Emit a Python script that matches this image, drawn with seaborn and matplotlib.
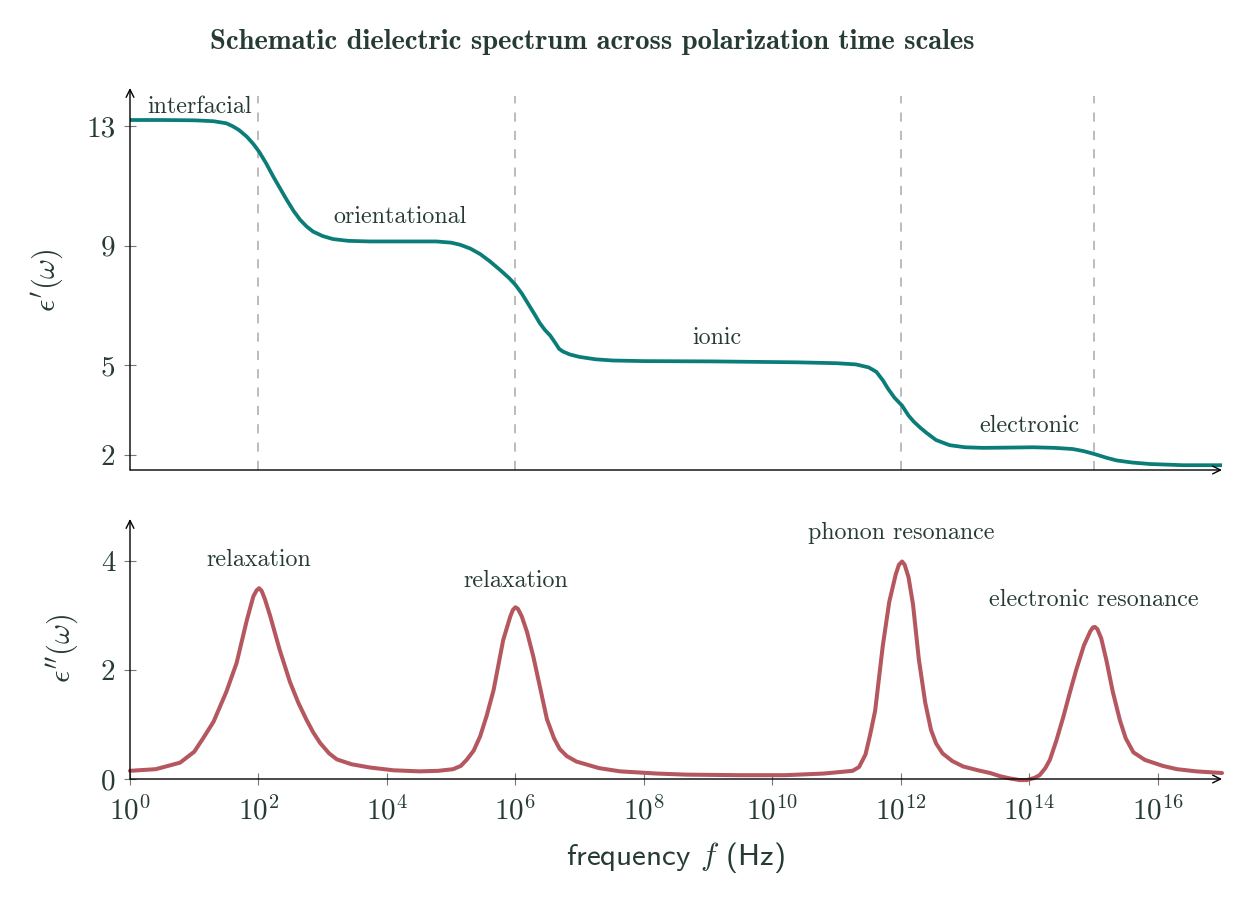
import numpy as np
import pandas as pd
import matplotlib
matplotlib.use("Agg")
import matplotlib.pyplot as plt
import seaborn as sns

# ---------------- data ----------------
# log10 of frequency (Hz) and real permittivity
real_logf = [0.0, 0.5, 1.0, 1.3, 1.5, 1.6, 1.7, 1.82, 1.92, 2.01, 2.12, 2.23, 2.34, 2.44, 2.55,
             2.65, 2.75, 2.85, 3.0, 3.16, 3.4, 3.74, 4.3, 4.77, 5.0, 5.14, 5.3, 5.45, 5.6,
             5.76, 5.9, 6.0, 6.1, 6.2, 6.3, 6.38, 6.46, 6.54, 6.62, 6.68, 6.74, 6.85, 7.0,
             7.25, 7.52, 8.0, 9.08, 10.38, 11.0, 11.3, 11.5, 11.62, 11.72, 11.8, 11.9, 12.02,
             12.12, 12.2, 12.3, 12.4, 12.55, 12.76, 13.0, 13.28, 13.7, 14.06, 14.4, 14.68, 14.85,
             15.02, 15.2, 15.36, 15.6, 15.88, 16.4, 17.0]
eps_real = [13.20, 13.20, 13.19, 13.16, 13.09, 12.99, 12.86, 12.64, 12.40, 12.14, 11.75, 11.31,
            10.90, 10.53, 10.15, 9.86, 9.64, 9.47, 9.32, 9.22, 9.16, 9.14, 9.14, 9.14, 9.10,
            9.03, 8.90, 8.72, 8.48, 8.19, 7.92, 7.69, 7.40, 7.05, 6.70, 6.41, 6.18, 6.00,
            5.75, 5.55, 5.46, 5.36, 5.28, 5.20, 5.16, 5.14, 5.13, 5.10, 5.07, 5.03, 4.93,
            4.78, 4.50, 4.22, 3.92, 3.65, 3.32, 3.12, 2.92, 2.74, 2.50, 2.33, 2.26, 2.24, 2.25,
            2.26, 2.24, 2.20, 2.13, 2.03, 1.91, 1.82, 1.75, 1.70, 1.66, 1.66]

# log10 of frequency (Hz) and imaginary permittivity
imag_logf = [0.0, 0.4, 0.78, 1.0, 1.14, 1.3, 1.5, 1.66, 1.82, 1.92, 1.97, 2.01, 2.05, 2.1,
             2.18, 2.33, 2.49, 2.62, 2.75, 2.85, 2.96, 3.1, 3.22, 3.45, 3.74, 4.1, 4.51, 4.8,
             5.03, 5.15, 5.24, 5.35, 5.45, 5.55, 5.66, 5.81, 5.92, 5.96, 6.0, 6.04, 6.1, 6.18,
             6.28, 6.38, 6.49, 6.6, 6.69, 6.8, 6.95, 7.3, 7.63, 8.2, 8.66, 9.5, 10.2, 10.8,
             11.25, 11.35, 11.45, 11.52, 11.6, 11.72, 11.82, 11.92, 11.97, 12.02, 12.06,
             12.12, 12.19, 12.28, 12.38, 12.47, 12.55, 12.65, 12.8, 12.97, 13.2, 13.39,
             13.55, 13.7, 13.85, 13.96, 14.08, 14.16, 14.25, 14.32, 14.42, 14.53, 14.63,
             14.73, 14.85, 14.95, 14.99, 15.02, 15.06, 15.12, 15.2, 15.3, 15.41, 15.5, 15.62,
             15.8, 16.08, 16.3, 16.6, 17.0]
eps_imag = [0.15, 0.18, 0.30, 0.50, 0.75, 1.05, 1.60, 2.13, 2.92, 3.35, 3.46, 3.50, 3.45,
            3.30, 3.00, 2.37, 1.78, 1.40, 1.08, 0.86, 0.66, 0.47, 0.36, 0.27, 0.21, 0.16,
            0.14, 0.15, 0.18, 0.24, 0.35, 0.52, 0.78, 1.15, 1.63, 2.55, 2.98, 3.10, 3.15,
            3.12, 2.98, 2.70, 2.24, 1.70, 1.10, 0.75, 0.55, 0.42, 0.32, 0.20, 0.14, 0.10,
            0.08, 0.07, 0.07, 0.10, 0.15, 0.22, 0.45, 0.80, 1.25, 2.45, 3.25, 3.75, 3.93,
            3.99, 3.93, 3.70, 3.20, 2.20, 1.40, 0.90, 0.65, 0.47, 0.33, 0.23, 0.16, 0.11,
            0.05, 0.01, -0.02, -0.02, 0.02, 0.07, 0.20, 0.35, 0.70, 1.14, 1.58, 2.00, 2.45,
            2.71, 2.78, 2.79, 2.75, 2.58, 2.18, 1.60, 1.08, 0.75, 0.49, 0.35, 0.24, 0.18,
            0.14, 0.11]

# mechanism boundaries (log10 Hz)
boundary_logf = [2, 6, 12, 15]

real_labels = ["interfacial", "orientational", "ionic", "electronic"]
real_label_logf = [1.09, 4.2, 9.14, 14.0]
real_label_y = [13.63, 9.96, 5.92, 2.98]

imag_labels = ["relaxation", "relaxation", "phonon resonance", "electronic resonance"]
imag_label_logf = [2.0, 6.0, 12.0, 15.0]
imag_label_y = [4.02, 3.63, 4.51, 3.28]

real_yticks = [2, 5, 9, 13]
imag_yticks = [0, 2, 4]
xtick_exps = [0, 2, 4, 6, 8, 10, 12, 14, 16]

# ---------------- style ----------------
sns.set_theme(style="white")
plt.rcParams["font.family"] = ["cmr10", "DejaVu Serif"]
plt.rcParams["mathtext.fontset"] = "cm"
plt.rcParams["axes.formatter.use_mathtext"] = True
plt.rcParams["axes.unicode_minus"] = False

TEXT = "#263b35"
TEAL = "#0b7d78"
RED = "#b5575f"

df_real = pd.DataFrame({"f": np.power(10.0, real_logf), "eps": eps_real})
df_imag = pd.DataFrame({"f": np.power(10.0, imag_logf), "eps": eps_imag})

fig = plt.figure(figsize=(12.47, 9.05), dpi=100)
W, H = 1247, 905
ax1 = fig.add_axes([130 / W, 1 - 470 / H, (1222 - 130) / W, (470 - 88) / H])
ax2 = fig.add_axes([130 / W, 1 - 779 / H, (1222 - 130) / W, (779 - 519) / H])

sns.lineplot(data=df_real, x="f", y="eps", ax=ax1, color=TEAL, lw=2.7, sort=False)
sns.lineplot(data=df_imag, x="f", y="eps", ax=ax2, color=RED, lw=2.9, sort=False)
for ax in (ax1, ax2):
    for line in ax.lines:
        line.set_solid_joinstyle("round")
        line.set_solid_capstyle("round")

for ax in (ax1, ax2):
    ax.set_xscale("log")
    ax.set_xlim(1, 1e17)
    for s in ax.spines.values():
        s.set_visible(False)
    ax.set_xlabel("")
    ax.set_ylabel("")
    ax.xaxis.set_minor_locator(matplotlib.ticker.NullLocator())
    ax.annotate("", xy=(0, 1), xytext=(0, 0), xycoords="axes fraction",
                arrowprops=dict(arrowstyle="->", lw=1.0, color="black",
                                shrinkA=0, shrinkB=0, mutation_scale=14))
    ax.annotate("", xy=(1, 0), xytext=(0, 0), xycoords="axes fraction",
                arrowprops=dict(arrowstyle="->", lw=1.0, color="black",
                                shrinkA=0, shrinkB=0, mutation_scale=14))
    ax.tick_params(axis="y", direction="inout", length=9, width=0.8, color="#777777",
                   labelsize=21, labelcolor=TEXT, pad=6, left=True)

ax1.set_ylim(1.5, 14.27)
ax1.set_yticks(real_yticks)
ax1.set_yticklabels([str(v) for v in real_yticks])
ax1.tick_params(axis="x", bottom=False, labelbottom=False)
ax1.vlines(np.power(10.0, boundary_logf), 1.5, 14.0, colors="#aaaaaa", lw=1.1,
           linestyles=(0, (6, 6)), zorder=0)
for t, lx, ly in zip(real_labels, real_label_logf, real_label_y):
    ax1.text(10 ** lx, ly, t, ha="center", va="center", fontsize=17.3, color=TEXT)

ax2.set_ylim(0, 4.77)
ax2.set_yticks(imag_yticks)
ax2.set_yticklabels([str(v) for v in imag_yticks])
ax2.set_xticks(np.power(10.0, xtick_exps))
ax2.tick_params(axis="x", direction="inout", length=9, width=0.8, color="#777777",
                labelsize=21, labelcolor=TEXT, pad=8, bottom=True)
for t, lx, ly in zip(imag_labels, imag_label_logf, imag_label_y):
    ax2.text(10 ** lx, ly, t, ha="center", va="center", fontsize=17.3, color=TEXT)
for line in ax2.lines:
    line.set_clip_on(False)

fig.text(47 / W, 1 - 280 / H, r"$\epsilon'(\omega)$", rotation=90, ha="center",
         va="center", fontsize=22, color=TEXT)
fig.text(62 / W, 1 - 648 / H, r"$\epsilon''(\omega)$", rotation=90, ha="center",
         va="center", fontsize=22, color=TEXT)
fig.text(676 / W, 1 - 857 / H, r"frequency $f$ (Hz)", ha="center", va="center",
         fontsize=22.4, color=TEXT, family=["cmss10", "DejaVu Sans"])
fig.text(592 / W, 1 - 42 / H, "Schematic dielectric spectrum across polarization time scales",
         ha="center", va="center", fontsize=20.6, color=TEXT, family=["cmb10", "DejaVu Serif"])

fig.savefig("out.png", dpi=100)
